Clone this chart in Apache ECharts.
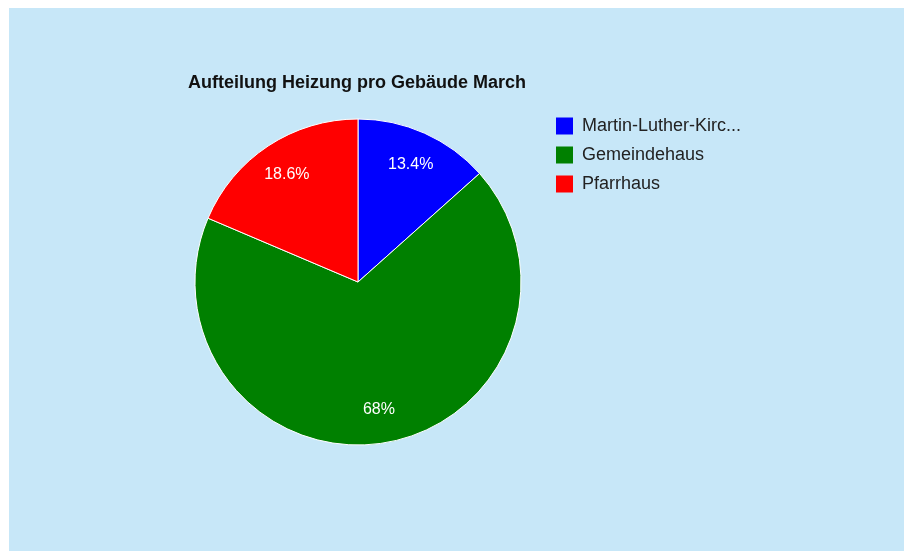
<!DOCTYPE html>
<html>
<head>
<meta charset="utf-8">
<script src="https://cdn.jsdelivr.net/npm/echarts@6/dist/echarts.min.js"></script>
<style>
  html, body { margin: 0; padding: 0; background: #ffffff; }
  #chart { position: absolute; left: 9px; top: 8px; width: 895px; height: 543px; }
</style>
</head>
<body>
<div id="chart"></div>
<script>
// Heating share per building
const buildings = ['Martin-Luther-Kirche March', 'Gemeindehaus', 'Pfarrhaus'];
const shares = [13.4, 68, 18.6];
const sliceColors = ['#0000ff', '#008000', '#ff0000'];

const FONT = '"Liberation Sans", Arial, sans-serif';

const pieData = buildings.map((name, i) => ({
  name: name,
  value: shares[i],
  itemStyle: { color: sliceColors[i] }
}));

const chart = echarts.init(document.getElementById('chart'));
chart.setOption({
  animation: false,
  backgroundColor: '#c7e7f8',
  title: {
    text: 'Aufteilung Heizung pro Gebäude March',
    left: 179,
    top: 66,
    padding: 0,
    textStyle: { fontFamily: FONT, fontSize: 18, fontWeight: 'bold', color: '#111111' }
  },
  legend: {
    orient: 'vertical',
    left: 547,
    top: 109,
    padding: 0,
    itemWidth: 17,
    itemHeight: 17,
    itemGap: 11,
    icon: 'rect',
    itemStyle: { borderWidth: 0 },
    data: buildings,
    textStyle: {
      fontFamily: FONT,
      fontSize: 18,
      color: '#222222',
      lineHeight: 17,
      padding: [0, 0, 0, 4],
      width: 167,
      overflow: 'truncate',
      ellipsis: '...'
    }
  },
  series: [
    {
      // the slices themselves
      type: 'pie',
      center: [349, 274],
      radius: [0, 163],
      startAngle: 90,
      clockwise: true,
      silent: true,
      label: { show: false },
      labelLine: { show: false },
      itemStyle: { borderColor: '#ffffff', borderWidth: 1 },
      data: pieData
    },
    {
      // transparent ring carrying the percentage labels further out
      type: 'pie',
      center: [349, 274],
      radius: [89, 163],
      startAngle: 90,
      clockwise: true,
      silent: true,
      z: 3,
      itemStyle: { color: 'rgba(0,0,0,0)', borderWidth: 0 },
      label: {
        show: true,
        position: 'inside',
        formatter: '{d}%',
        fontFamily: FONT,
        fontSize: 16,
        color: '#ffffff'
      },
      labelLine: { show: false },
      data: buildings.map((name, i) => ({ name: name, value: shares[i] }))
    }
  ]
});
</script>
</body>
</html>
